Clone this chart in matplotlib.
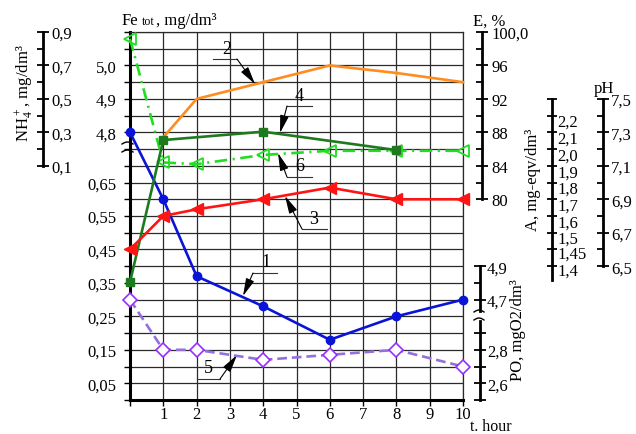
import numpy as np
import matplotlib
matplotlib.use('Agg')
import matplotlib.pyplot as plt

plt.rcParams['font.family'] = ['Liberation Serif', 'DejaVu Serif']
plt.rcParams['mathtext.fontset'] = 'custom'
plt.rcParams['mathtext.rm'] = 'Liberation Serif'
plt.rcParams['lines.scale_dashes'] = False

# ---------------- data ----------------
hours = list(range(0, 11))
hour_labels = [''] + [str(h) for h in range(1, 11)]

t_fe = [0, 1, 2, 4, 6, 8, 10]            # series 1 (Fe tot)
fe = [4.8, 0.60, 0.37, 0.28, 0.18, 0.25, 0.30]
t_e = [1, 2, 4, 6, 8, 10]                # series 2 (E, %)
e_vals = [87.4, 92.0, 94.0, 96.0, 95.1, 94.0]
t_ph = [0, 1, 2, 4, 6, 8, 10]            # series 3 (pH)
ph = [6.60, 6.80, 6.84, 6.90, 6.97, 6.90, 6.90]
t_a = [0, 1, 4, 8]                       # series 4 (A)
a_vals = [1.36, 2.08, 2.13, 2.02]
t_po = [0, 1, 2, 4, 6, 8, 10]            # series 5 (PO)
po = [4.70, 2.80, 2.80, 2.74, 2.77, 2.80, 2.70]
t_nh4 = [0, 1, 2, 4, 6, 8, 10]           # series 6 (NH4+)
nh4 = [0.86, 0.12, 0.11, 0.165, 0.19, 0.19, 0.19]

fe_ticks = [0.05, 0.15, 0.25, 0.35, 0.45, 0.55, 0.65, 4.8, 4.9, 5.0]
fe_labels = ['0,05', '0,15', '0,25', '0,35', '0,45', '0,55', '0,65', '4,8', '4,9', '5,0']
nh4_ticks = [0.1, 0.3, 0.5, 0.7, 0.9]
nh4_labels = ['0,1', '0,3', '0,5', '0,7', '0,9']
e_ticks = [80, 84, 88, 92, 96, 100]
e_labels = ['80', '84', '88', '92', '96', '100,0']
po_ticks_low = [2.6, 2.8]
po_labels_low = ['2,6', '2,8']
po_ticks_up = [4.7, 4.9]
po_labels_up = ['4,7', '4,9']
a_ticks = [1.4, 1.45, 1.5, 1.6, 1.7, 1.8, 1.9, 2.0, 2.1, 2.2]
a_labels = ['1,4', '1,45', '1,5', '1,6', '1,7', '1,8', '1,9', '2,0', '2,1', '2,2']
ph_ticks = [6.5, 6.7, 6.9, 7.1, 7.3, 7.5]
ph_labels = ['6,5', '6,7', '6,9', '7,1', '7,3', '7,5']


def piecewise(xp, fp):
    xp = np.asarray(xp, float)
    fp = np.asarray(fp, float)
    return (lambda v: np.interp(v, xp, fp), lambda r: np.interp(r, fp, xp))


fe_f = piecewise([0, 0.75, 4.75, 5.1], [0, 15, 15.0001, 22])
po_f = piecewise([2.5, 3.0, 4.6, 6.3], [0, 5, 5.0001, 22])
a_f = piecewise([1.0, 1.4, 1.45, 1.5, 2.2, 2.74], [0, 7.83, 8.85, 9.74, 16.74, 22])

W_PX, H_PX = 636, 435
fig = plt.figure(figsize=(6.36, 4.35), dpi=100)
L, B, W, H = 130 / W_PX, 34 / H_PX, 333 / W_PX, 368 / H_PX
RECT = [L, B, W, H]
FS = 12

# ---------------- grid axes (rows) ----------------
ax = fig.add_axes(RECT)
ax.set_xlim(0, 10)
ax.set_ylim(0, 22)
ax.set_xticks(hours)
ax.set_xticklabels(hour_labels, fontsize=FS)
ax.set_yticks(range(23))
ax.set_yticklabels([])
ax.grid(True, color='#2a2a2a', lw=0.9)
ax.tick_params(axis='x', direction='out', length=4, width=1, pad=0.5)
ax.tick_params(axis='y', direction='out', length=4, width=1)
for s in ['left', 'bottom']:
    ax.spines[s].set_linewidth(2.2)
for s in ['top', 'right']:
    ax.spines[s].set_linewidth(0.9)
    ax.spines[s].set_color('#2a2a2a')


def px(x, y):
    return ((x - 130) / 33.3, (401 - y) / (368 / 22))


def overlay(funcs=None, lim=None):
    a = fig.add_axes(RECT)
    a.patch.set_visible(False)
    a.set_xlim(0, 10)
    if funcs is not None:
        a.set_yscale('function', functions=funcs)
    a.set_ylim(*lim)
    for s in a.spines.values():
        s.set_visible(False)
    a.xaxis.set_visible(False)
    a.yaxis.set_minor_locator(matplotlib.ticker.NullLocator())
    return a


def side_spine(a, pos, bounds, ticks, labels, minor, major_dir='inout', major_len=8,
               minor_dir='in', minor_len=4, pad=2):
    sp = a.spines['right']
    sp.set_visible(True)
    sp.set_position(('axes', pos))
    sp.set_bounds(*bounds)
    sp.set_linewidth(2.0)
    a.yaxis.set_ticks_position('right')
    a.set_yticks(ticks, labels=labels)
    a.set_yticks(minor, minor=True)
    a.tick_params(axis='y', which='major', direction=major_dir, length=major_len,
                  width=1.3, pad=pad, labelsize=FS)
    a.tick_params(axis='y', which='minor', direction=minor_dir, length=minor_len, width=1.3)


# Fe axis (labels only, left)
ax_fe = overlay(fe_f, (0, 5.1))
ax_fe.yaxis.set_ticks_position('left')
ax_fe.set_yticks(fe_ticks, labels=fe_labels)
ax_fe.tick_params(axis='y', length=0, pad=9.5, labelsize=FS)

# NH4 axis
ax_nh4 = overlay(None, (-1.3, 0.9))
side_spine(ax_nh4, (43 - 130) / 333, (0.1, 0.9), nh4_ticks, nh4_labels, [0.2, 0.4, 0.6, 0.8])

# E axis
ax_e = overlay(None, (56, 100))
side_spine(ax_e, (482 - 130) / 333, (80, 100), e_ticks, e_labels,
           [82, 86, 90, 94, 98], pad=3)

# PO axes
ax_po = overlay(po_f, (2.5, 6.3))
side_spine(ax_po, (480 - 130) / 333, (2.5, 2.97), po_ticks_low, po_labels_low,
           [2.5, 2.7, 2.9], minor_dir='inout', minor_len=8, pad=1)
ax_po2 = overlay(po_f, (2.5, 6.3))
side_spine(ax_po2, (480 - 130) / 333, (4.63, 4.9), po_ticks_up, po_labels_up,
           [4.8], pad=1)

# A axis
ax_a = overlay(a_f, (1.0, 2.74))
side_spine(ax_a, (552 - 130) / 333, (a_f[1](7.2), a_f[1](18)), a_ticks, a_labels,
           list(a_f[1](np.arange(8, 19))), major_len=0, minor_dir='inout', minor_len=7, pad=4)

# pH axis
ax_ph = overlay(None, (5.7, 7.9))
side_spine(ax_ph, (603 - 130) / 333, (6.5, 7.5), ph_ticks, ph_labels,
           [6.6, 6.8, 7.0, 7.2, 7.4], pad=2)

# ---------------- series ----------------
LW = 1.9
ax_fe.plot(t_fe, fe, color='#0a14d8', lw=LW, marker='o', ms=6, clip_on=False, zorder=5)
ax_e.plot(t_e, e_vals, color='#ff8c1f', lw=LW, marker='|', ms=4, markevery=[2, 4],
          clip_on=False, zorder=5)
ax_ph.plot(t_ph, ph, color='#ff1414', lw=LW, marker='<', ms=8, clip_on=False, zorder=5)
ax_a.plot(t_a, a_vals, color='#1f7a1f', lw=LW, marker='s', ms=5.5, clip_on=False, zorder=5)
ax_po.plot(t_po, po, color='#9370db', lw=LW, dashes=(7, 3.5), marker='D', ms=7,
           mfc='white', mec='#9a2cff', mew=1.2, clip_on=False, zorder=5)
ax_nh4.plot(t_nh4, nh4, color='#22dd22', lw=LW, dashes=(9, 4, 1.5, 4), marker='<', ms=9,
            mfc='none', mec='#22dd22', mew=1.3, clip_on=False, zorder=5)

# ---------------- annotations ----------------
ann = [
    ('2', (227, 50), (213, 237, 60), (237, 60), (255, 85)),
    ('4', (299, 97), (287, 312, 107), (287, 107), (280, 134)),
    ('6', (300, 167), (287, 312, 178), (287, 178), (278, 154)),
    ('3', (314, 220), (302, 327, 230), (302, 230), (285, 197)),
    ('1', (266, 263), (253, 277, 274), (253, 274), (243, 297)),
    ('5', (208, 369), (197, 220, 380), (220, 380), (237, 356)),
]
for lab, tp, hl, start, tip in ann:
    x0, y0 = px(hl[0], hl[2])
    x1, _ = px(hl[1], hl[2])
    ax.plot([x0, x1], [y0, y0], color='#333333', lw=0.8, zorder=6, clip_on=False)
    ax.annotate('', xy=px(*tip), xytext=px(*start),
                arrowprops=dict(arrowstyle='-|>,head_length=0.9,head_width=0.22',
                                color='black', lw=0.8, mutation_scale=12, shrinkA=0, shrinkB=0),
                zorder=6)
    ax.text(*px(*tp), lab, fontsize=FS + 1, ha='center', va='center', zorder=6)

# break marks
for yb in (145, 153):
    xs = np.linspace(122, 133, 12)
    ys = yb - 2.0 * np.sin((xs - 122) / 11 * np.pi)
    pts = [px(x, y) for x, y in zip(xs, ys)]
    ax.plot([p[0] for p in pts], [p[1] for p in pts], color='black', lw=1.0, clip_on=False)
for yb in (313, 321):
    xs = np.linspace(474, 484, 12)
    ys = yb - 2.0 * np.sin((xs - 474) / 10 * np.pi)
    pts = [px(x, y) for x, y in zip(xs, ys)]
    ax.plot([p[0] for p in pts], [p[1] for p in pts], color='black', lw=1.0, clip_on=False)

# ---------------- axis titles ----------------
def ftext(x, y, s, **kw):
    fig.text(x / W_PX, 1 - y / H_PX, s, **kw)

ftext(122, 25, 'Fe', fontsize=FS, va='baseline', ha='left')
ftext(142, 25, 'tot', fontsize=8.5, va='baseline', ha='left')
ftext(156, 25, ', mg/dm³', fontsize=FS, va='baseline', ha='left')
ftext(473, 26, 'E, %', fontsize=FS, va='baseline', ha='left')
ftext(594, 93, 'pH', fontsize=FS, va='baseline', ha='left')
ftext(470, 431, 't. hour', fontsize=11.5, va='baseline', ha='left')
ftext(25, 93, r'NH$\mathregular{_4^+}$, mg/dm³', fontsize=FS, rotation=90,
      ha='center', va='center')
ftext(533, 180, 'A, mg-eqv/dm³', fontsize=FS, rotation=90, ha='center', va='center')
ftext(518, 330, 'PO, mgO2/dm³', fontsize=FS, rotation=90, ha='center', va='center')

fig.savefig('out.png', dpi=100)
